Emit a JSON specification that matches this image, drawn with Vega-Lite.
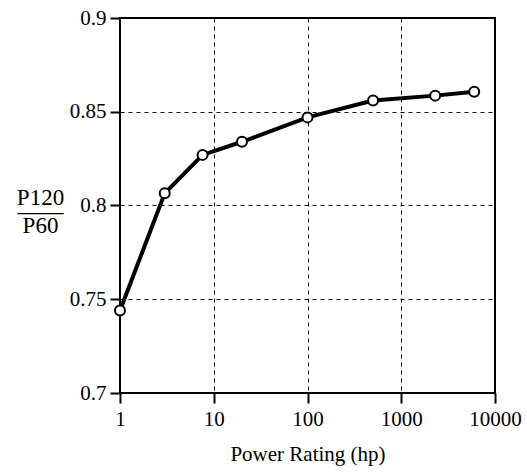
{
  "$schema": "https://vega.github.io/schema/vega-lite/v6.json",
  "width": 375,
  "height": 375,
  "autosize": {"type": "none"},
  "padding": {"left": 120, "top": 18, "right": 32, "bottom": 80},
  "background": "white",
  "data": {
    "values": [
      {"hp": 1, "ratio": 0.744},
      {"hp": 3, "ratio": 0.8065},
      {"hp": 7.6, "ratio": 0.827},
      {"hp": 20, "ratio": 0.834},
      {"hp": 100, "ratio": 0.847},
      {"hp": 500, "ratio": 0.856},
      {"hp": 2300, "ratio": 0.8586},
      {"hp": 6000, "ratio": 0.8607}
    ]
  },
  "config": {
    "font": "Liberation Serif",
    "view": {"stroke": "black", "strokeWidth": 2},
    "axis": {
      "labelFont": "Liberation Serif",
      "titleFont": "Liberation Serif",
      "labelFontSize": 21,
      "titleFontSize": 21,
      "labelColor": "black",
      "titleColor": "black",
      "titleFontWeight": "normal",
      "domain": false,
      "tickColor": "black",
      "tickWidth": 2,
      "tickSize": 10,
      "grid": true,
      "gridColor": "black",
      "gridDash": [4, 4],
      "gridWidth": 1,
      "gridOpacity": 1
    }
  },
  "layer": [
    {
      "mark": {"type": "line", "color": "black", "strokeWidth": 4},
      "encoding": {
        "x": {
          "field": "hp",
          "type": "quantitative",
          "scale": {"type": "log", "domain": [1, 10000], "nice": false},
          "axis": {
            "values": [1, 10, 100, 1000, 10000],
            "format": "d",
            "title": "Power Rating (hp)",
            "labelFont": "Liberation Serif",
            "titleFont": "Liberation Serif",
            "labelPadding": 5,
            "titlePadding": 14,
            "labelFlush": false
          }
        },
        "y": {
          "field": "ratio",
          "type": "quantitative",
          "scale": {"domain": [0.7, 0.9], "nice": false, "zero": false},
          "axis": {
            "values": [0.7, 0.75, 0.8, 0.85, 0.9],
            "format": "~g",
            "labelFont": "Liberation Serif",
            "titleFont": "Liberation Serif",
            "labelPadding": 4,
            "title": ["P120", "——", "P60"],
            "titleFontSize": 23,
            "titleAngle": 0,
            "titleAlign": "center",
            "titleBaseline": "alphabetic",
            "titleLineHeight": 14,
            "titleX": -80,
            "titleY": 186
          }
        }
      }
    },
    {
      "mark": {"type": "point", "shape": "circle", "filled": true, "fill": "white", "stroke": "black", "strokeWidth": 2, "size": 100, "opacity": 1},
      "encoding": {
        "x": {"field": "hp", "type": "quantitative"},
        "y": {"field": "ratio", "type": "quantitative"}
      }
    }
  ]
}
